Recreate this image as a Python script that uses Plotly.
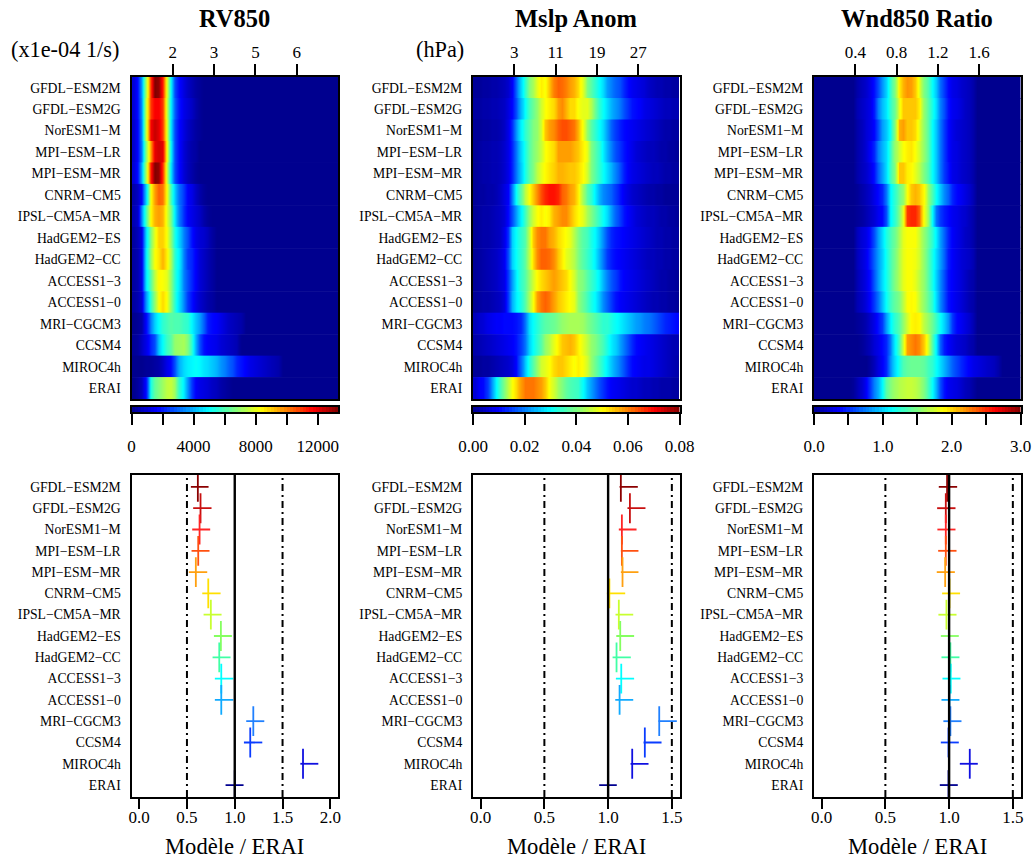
import numpy as np
import plotly.graph_objects as go

models = ["GFDL\u2212ESM2M", "GFDL\u2212ESM2G", "NorESM1\u2212M", "MPI\u2212ESM\u2212LR", "MPI\u2212ESM\u2212MR",
          "CNRM\u2212CM5", "IPSL\u2212CM5A\u2212MR", "HadGEM2\u2212ES", "HadGEM2\u2212CC", "ACCESS1\u22123",
          "ACCESS1\u22120", "MRI\u2212CGCM3", "CCSM4", "MIROC4h", "ERAI"]
row_colors = ["#8B0000", "#C81010", "#FF2525", "#FF5010", "#FFA010", "#FFE000", "#C8FF30", "#85FF60",
              "#40FFA5", "#00FFFF", "#10AAFF", "#2080FF", "#0A3CFF", "#1010E0", "#000090"]

# Density rows, percent of the colour-bar maximum, 50 bins per row
rv_rows = [
 [8,14,28,55,82,100,98,85,60,38,20,13,9,6,4,2,1],
 [8,14,27,58,82,88,88,82,58,37,22,14,10,8,6,3,1],
 [7,13,26,58,88,93,90,82,60,36,20,13,9,6,4,2,1],
 [7,13,25,52,72,90,92,90,62,38,20,13,8,5,3,2],
 [8,14,30,55,85,100,98,83,58,36,20,13,8,5,3,1],
 [3,6,13,34,62,72,78,76,62,45,33,23,18,12,10,6,3,1],
 [4,7,26,45,63,70,72,70,60,50,36,24,17,12,10,8,6,3,1],
 [2,5,10,35,50,60,67,67,62,52,40,33,25,20,14,10,8,7,5,2],
 [2,4,10,37,52,62,65,70,64,55,42,36,25,18,16,12,8,6,4,2],
 [2,4,10,36,46,56,63,62,60,52,42,35,25,20,16,12,8,6,4,2],
 [2,4,8,28,42,52,62,66,62,52,42,34,26,18,14,10,7,5,3,2],
 [0,1,3,13,25,33,38,42,44,46,45,45,43,42,37,32,28,22,15,13,12,10,8,6,5,4,3],
 [1,2,6,10,16,20,32,38,43,46,52,53,54,50,42,30,20,14,12,11,10,8,7,6,5,4],
 [0,0,0,1,1,2,3,6,10,13,20,30,34,36,37,38,37,35,34,32,30,27,25,22,20,16,14,12,10,9,8,7,6,5,4,3],
 [0,2,5,14,40,47,50,53,56,57,53,42,36,27,18,12,10,9,8,6,5,3,2,1],
]
mslp_rows = [
 [1,1,2,2,3,3,4,5,7,12,22,33,42,50,54,60,64,62,68,75,78,77,75,72,70,66,60,50,46,42,38,34,28,25,22,20,16,13,11,10,9,8,6,5,4,4,3,3,2,2],
 [2,2,3,3,4,4,5,6,9,13,20,30,38,44,48,52,58,62,64,66,72,74,70,66,66,62,60,60,55,48,42,38,34,30,27,24,20,17,14,13,12,10,9,8,7,6,5,5,4,4],
 [1,1,2,2,3,3,4,6,10,17,27,36,42,46,50,52,58,68,72,74,78,80,80,78,76,70,62,52,46,42,38,34,28,22,18,15,13,12,11,10,9,8,7,6,5,4,3,3,2,2],
 [1,2,3,3,4,4,5,7,10,16,24,33,40,46,50,53,57,62,64,66,72,72,72,72,70,68,64,60,50,46,42,36,30,25,20,17,14,12,10,8,7,6,5,5,4,3,3,2,2,1],
 [1,2,3,3,4,4,5,7,10,16,24,32,40,46,50,56,60,63,65,67,70,70,69,68,68,66,63,58,50,46,42,38,34,30,25,20,15,12,10,9,8,7,6,5,5,4,3,3,2,2],
 [1,2,2,3,3,4,6,9,12,25,38,46,56,62,68,74,80,84,86,86,84,78,76,72,70,64,54,46,42,36,30,26,24,22,18,14,11,9,7,6,5,4,3,3,2,2,1,1,1,1],
 [1,2,3,3,4,5,6,8,13,20,28,36,44,52,58,62,64,62,64,70,72,74,74,70,66,63,60,54,50,46,42,38,34,28,22,18,14,12,10,8,7,6,5,5,4,3,3,2,2,1],
 [1,2,3,3,4,5,6,10,17,33,38,42,46,56,68,74,76,76,72,70,66,64,62,60,55,50,46,44,40,37,32,26,20,16,14,13,12,11,10,9,8,7,6,5,4,4,3,3,2,2],
 [1,2,3,4,5,6,8,11,20,33,38,42,47,56,66,74,78,78,77,74,68,64,60,58,55,50,46,43,40,36,30,24,18,15,13,12,11,10,9,8,7,6,5,5,4,4,3,3,2,2],
 [1,2,3,4,5,6,8,10,18,28,36,42,46,52,58,63,66,68,70,72,70,68,66,62,58,52,50,46,43,40,36,30,25,21,18,14,12,11,10,9,8,7,6,5,4,3,3,2,2,1],
 [1,2,3,3,4,5,6,9,18,30,36,40,46,54,62,72,76,78,76,72,68,66,64,62,60,52,48,44,40,37,32,26,22,18,14,12,11,10,9,8,7,6,5,4,4,3,3,2,2,1],
 [5,7,8,10,11,12,12,13,13,13,14,16,24,34,38,41,44,46,47,48,50,52,53,54,54,54,53,50,48,46,44,42,42,40,38,36,34,32,30,28,27,25,24,22,20,18,16,15,14,13],
 [3,4,5,6,7,8,9,10,11,12,14,18,24,33,38,42,46,52,55,60,64,68,69,70,68,64,60,56,52,50,47,44,40,36,33,28,24,20,16,13,12,11,10,9,8,7,6,5,4,4],
 [1,1,2,2,3,4,5,6,7,9,13,22,32,40,46,52,58,60,62,66,68,68,66,64,62,64,62,58,52,48,44,40,36,32,28,24,20,16,13,12,11,10,10,9,8,7,6,5,4,3],
 [8,12,13,18,28,37,44,50,56,62,66,72,76,76,76,74,72,68,62,58,53,50,47,45,44,43,38,32,28,24,20,17,14,12,11,10,9,8,7,7,6,5,5,4,4,3,3,3,2,2],
]
wnd_rows = [
 [0,0,0,0,0,0,0,0,0,0,3,5,7,10,14,20,27,33,42,50,64,70,73,72,68,60,50,45,38,32,23,18,13,10,9,7,6,5,3],
 [0,0,0,0,0,0,0,0,0,0,4,6,8,10,15,25,31,35,42,48,60,68,68,68,68,64,52,46,40,34,25,20,14,11,10,8,6,5,3],
 [0,0,0,0,0,0,0,0,0,0,3,5,8,10,13,20,28,32,38,50,70,72,68,68,66,60,52,46,38,32,24,18,13,10,8,7,6,5,3],
 [0,0,0,0,0,0,0,0,0,0,3,5,8,12,16,25,30,34,42,52,58,62,64,65,62,58,52,46,38,32,24,18,13,10,9,7,6,5,3],
 [0,0,0,0,0,0,0,0,0,0,3,5,7,10,14,22,28,34,43,50,68,68,64,63,60,56,50,45,38,32,24,18,14,10,9,7,6,5,3],
 [0,0,0,0,0,0,0,0,0,0,1,3,5,7,10,13,16,24,36,42,48,52,62,68,70,68,63,52,45,38,32,26,22,16,13,11,9,7,4],
 [0,0,0,0,0,0,0,0,0,0,1,2,4,6,8,11,13,20,36,42,50,60,82,84,84,78,62,52,38,24,18,15,13,11,10,8,7,5,3],
 [0,0,0,0,0,0,0,0,0,0,5,8,10,14,20,28,34,40,44,48,54,60,62,62,62,58,52,47,42,36,28,22,16,12,10,8,6,5,3],
 [0,0,0,0,0,0,0,0,0,0,5,8,11,16,22,28,33,39,44,49,55,60,62,62,61,58,52,46,40,34,28,22,15,12,10,8,7,6,4],
 [0,0,0,0,0,0,0,0,0,0,4,7,10,14,21,28,34,39,44,50,55,60,62,62,60,56,52,46,40,33,26,20,14,12,10,8,6,4,3],
 [0,0,0,0,0,0,0,0,0,0,4,6,9,13,18,24,31,38,43,47,50,56,62,63,62,57,52,47,42,34,26,20,14,12,10,8,6,4,3],
 [0,0,0,0,0,0,0,0,0,0,1,2,4,7,10,14,18,28,36,42,46,52,58,63,64,63,56,52,48,43,38,33,27,18,13,11,9,7,4],
 [0,0,0,0,0,0,0,0,0,0,0,1,3,5,8,10,13,16,24,36,45,58,72,74,76,74,68,58,46,36,22,15,12,10,8,7,6,4,3],
 [0,0,0,0,0,0,0,0,0,0,0,0,0,2,5,9,12,16,26,34,40,45,47,48,48,48,47,44,42,38,34,30,26,22,19,16,14,12,10,9,8,7,6,5,3],
 [0,0,0,0,0,0,0,0,0,1,4,7,12,18,25,30,37,46,50,53,55,56,57,57,56,54,50,44,38,30,20,14,11,10,9,7,5,4,2],
]

# Ratio panels: vertical tick position, horizontal bar ends
rv_mark = [.614,.642,.632,.618,.593,.723,.750,.855,.838,.859,.859,1.194,1.162,1.714,1.0]
rv_lo = [.541,.565,.555,.548,.520,.660,.674,.782,.768,.792,.792,1.120,1.096,1.686,.904]
rv_hi = [.726,.757,.743,.736,.712,.852,.862,.970,.956,.984,.984,1.309,1.288,1.874,1.092]
mslp_mark = [1.100,1.171,1.108,1.108,1.113,1.010,1.084,1.095,1.066,1.103,1.090,1.401,1.288,1.189,1.0]
mslp_lo = [1.090,1.152,1.084,1.100,1.100,.990,1.058,1.064,1.035,1.061,1.056,1.395,1.278,1.176,.930]
mslp_hi = [1.233,1.293,1.223,1.238,1.238,1.134,1.197,1.204,1.178,1.204,1.197,1.539,1.419,1.317,1.068]
wnd_mark = [.984,.974,.974,.974,.969,1.003,.979,1.0,1.010,1.013,1.003,1.010,.995,1.162,.995]
wnd_lo = [.919,.906,.908,.914,.903,.945,.916,.935,.940,.948,.940,.955,.935,1.084,.927]
wnd_hi = [1.063,1.050,1.050,1.058,1.045,1.086,1.058,1.076,1.081,1.089,1.081,1.097,1.076,1.225,1.068]

titles = ["RV850", "Mslp Anom", "Wnd850 Ratio"]
units = ["(x1e-04 1/s)", "(hPa)", ""]
top_vals = [[1.5, 3, 4.5, 6], [3, 11, 19, 27], [0.4, 0.8, 1.2, 1.6]]
top_text = [["2", "3", "5", "6"], ["3", "11", "19", "27"], ["0.4", "0.8", "1.2", "1.6"]]
top_range = [[0, 7.5], [-5, 35], [0, 2]]
cb_max = [13300, 0.08, 3.0]
cb_vals = [[0, 2000, 4000, 6000, 8000, 10000, 12000], [0, .02, .04, .06, .08], [0, .5, 1, 1.5, 2, 2.5, 3]]
cb_text = [["0", "", "4000", "", "8000", "", "12000"], ["0.00", "0.02", "0.04", "0.06", "0.08"],
           ["0.0", "", "1.0", "", "2.0", "", "3.0"]]
ratio_vals = [[0, .5, 1, 1.5, 2], [0, .5, 1, 1.5], [0, .5, 1, 1.5]]
ratio_text = [["0.0", "0.5", "1.0", "1.5", "2.0"], ["0.0", "0.5", "1.0", "1.5"], ["0.0", "0.5", "1.0", "1.5"]]
ratio_range = [[-0.08, 2.08], [-0.06, 1.56], [-0.06, 1.56]]
heat = [rv_rows, mslp_rows, wnd_rows]
marks = [(rv_mark, rv_lo, rv_hi), (mslp_mark, mslp_lo, mslp_hi), (wnd_mark, wnd_lo, wnd_hi)]

W, H = 1035, 861
FONT = "Liberation Serif"
LEFT = [131.5, 473, 814]
WIDTH = 206.5
UNIT_X = [65, 440, 0]
tim = [[0, "#00008F"], [0.125, "#0000FF"], [0.375, "#00FFFF"], [0.625, "#FFFF00"], [0.875, "#FF0000"], [1, "#800000"]]
rows = list(range(1, 16))


def xd(a, b):
    return [a / W, b / W]


def yd(a, b):
    return [1 - b / H, 1 - a / H]


fig = go.Figure()
layout = {}
ann = []
shapes = []
ax = 0
for p in range(3):
    L, R = LEFT[p], LEFT[p] + WIDTH
    xr = top_range[p]
    # heat map: one smooth strip per model, sharp edges between the models
    ax += 1
    dx = (xr[1] - xr[0]) / 50
    for i, r in enumerate(heat[p]):
        vals = np.array((r + [0] * 50)[:50], dtype=float) / 100 * cb_max[p]
        half = 0.26
        fig.add_trace(go.Heatmap(z=[vals, vals], x0=xr[0] + dx / 2, dx=dx, y=[rows[i] - half, rows[i] + half],
                                 zmin=0, zmax=cb_max[p], colorscale=tim, zsmooth="best", showscale=False,
                                 xaxis=f"x{ax}", yaxis=f"y{ax}", name=models[i]))
    layout[f"xaxis{ax}"] = dict(domain=xd(L, R), range=xr, side="top", tickvals=top_vals[p], ticktext=top_text[p],
                                ticks="outside", ticklen=11, tickwidth=1.5, tickcolor="black", showline=True,
                                mirror=True, linewidth=2, linecolor="black", showgrid=False, zeroline=False,
                                anchor=f"y{ax}", tickfont=dict(size=17), ticklabelstandoff=-1, automargin=False)
    layout[f"yaxis{ax}"] = dict(domain=yd(77, 399), range=[15.5, 0.5], tickvals=rows, ticktext=models, ticks="",
                                showline=True, mirror=True, linewidth=2, linecolor="black", showgrid=False,
                                zeroline=False, anchor=f"x{ax}", tickfont=dict(size=13.7), ticklabelstandoff=6,
                                automargin=False)
    # colour bar
    ax += 1
    n = 64
    grad = (np.arange(n) + 0.5) / n * cb_max[p]
    fig.add_trace(go.Heatmap(z=[grad], x=grad, y=[0], zmin=0, zmax=cb_max[p], colorscale=tim, showscale=False,
                             xaxis=f"x{ax}", yaxis=f"y{ax}", hoverinfo="skip"))
    layout[f"xaxis{ax}"] = dict(domain=xd(L, R), range=[0, cb_max[p]], tickvals=cb_vals[p], ticktext=cb_text[p],
                                ticks="outside", ticklen=11, tickwidth=1.5, tickcolor="black", showline=True,
                                mirror=True, linewidth=2, linecolor="black", showgrid=False, zeroline=False,
                                anchor=f"y{ax}", tickfont=dict(size=17), ticklabelstandoff=7, automargin=False)
    layout[f"yaxis{ax}"] = dict(domain=yd(407, 412), range=[-0.5, 0.5], showticklabels=False, ticks="",
                                showline=True, mirror=True, linewidth=2, linecolor="black", showgrid=False,
                                zeroline=False, anchor=f"x{ax}", automargin=False)
    # ratio panel
    ax += 1
    m, lo, hi = marks[p]
    for i, name in enumerate(models):
        r = rows[i]
        fig.add_trace(go.Scatter(x=[lo[i], hi[i], None, m[i], m[i]], y=[r, r, None, r - 0.7, r + 0.7], mode="lines",
                                 line=dict(color=row_colors[i], width=1.8), showlegend=False, name=name,
                                 xaxis=f"x{ax}", yaxis=f"y{ax}"))
    layout[f"xaxis{ax}"] = dict(domain=xd(L, R), range=ratio_range[p], tickvals=ratio_vals[p], ticktext=ratio_text[p],
                                ticks="outside", ticklen=10, tickwidth=1.5, tickcolor="black", showline=True,
                                mirror=True, linewidth=2, linecolor="black", showgrid=False, zeroline=False,
                                anchor=f"y{ax}", tickfont=dict(size=17), ticklabelstandoff=-6, automargin=False)
    layout[f"yaxis{ax}"] = dict(domain=yd(475, 797), range=[15.56, 0.44], tickvals=rows, ticktext=models, ticks="",
                                showline=True, mirror=True, linewidth=2, linecolor="black", showgrid=False,
                                zeroline=False, anchor=f"x{ax}", tickfont=dict(size=13.7), ticklabelstandoff=6,
                                automargin=False)
    for v, style in [(0.5, "7px,4px,2px,4px"), (1.0, "solid"), (1.5, "7px,4px,2px,4px")]:
        shapes.append(dict(type="line", xref=f"x{ax}", yref=f"y{ax} domain", x0=v, x1=v, y0=0, y1=1,
                           line=dict(color="black", width=2.4 if style == "solid" else 2, dash=style)))
    # text
    cx = (L + R) / 2
    ann.append(dict(text=f"<b>{titles[p]}</b>", x=cx / W, y=1 - 18 / H, xref="paper", yref="paper", showarrow=False,
                    xanchor="center", yanchor="middle", font=dict(size=24.5)))
    ann.append(dict(text="Mod\u00e8le / ERAI", x=cx / W, y=1 - 846 / H, xref="paper", yref="paper", showarrow=False,
                    xanchor="center", yanchor="middle", font=dict(size=22.6)))
    if units[p]:
        ann.append(dict(text=units[p], x=UNIT_X[p] / W, y=1 - 50 / H, xref="paper", yref="paper", showarrow=False,
                        xanchor="center", yanchor="middle", font=dict(size=22.3)))

fig.update_layout(width=W, height=H, margin=dict(l=0, r=0, t=0, b=0), paper_bgcolor="white", plot_bgcolor="white",
                  font=dict(family=FONT, color="black"), annotations=ann, shapes=shapes, showlegend=False, **layout)
fig.write_html("out.html", config={"displayModeBar": False}, post_script="document.body.style.margin='0';")
